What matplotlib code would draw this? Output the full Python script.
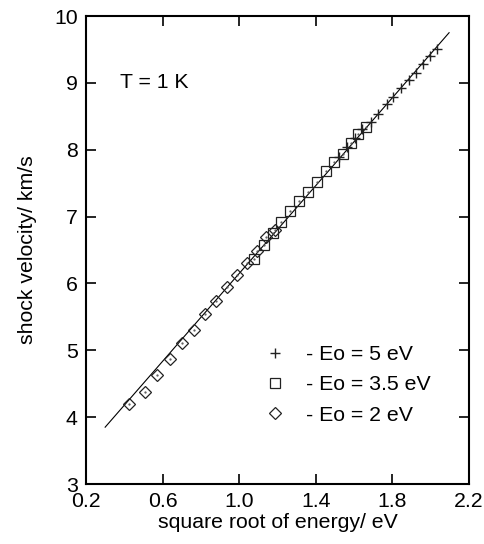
import matplotlib
matplotlib.use("Agg")
import matplotlib.pyplot as plt
from matplotlib.lines import Line2D

plt.rcParams["font.family"] = ["Liberation Sans", "DejaVu Sans"]

# Eo = 5 eV
x_5 = [1.523, 1.561, 1.603, 1.640, 1.686, 1.726, 1.770, 1.801, 1.845, 1.888,
       1.925, 1.962, 1.996, 2.031]
y_5 = [7.89, 8.04, 8.18, 8.31, 8.42, 8.54, 8.68, 8.79, 8.92, 9.04,
       9.15, 9.28, 9.40, 9.51]

# Eo = 3.5 eV
x_35 = [1.075, 1.127, 1.175, 1.218, 1.267, 1.314, 1.361, 1.406, 1.451, 1.495,
        1.540, 1.582, 1.622, 1.660]
y_35 = [6.37, 6.58, 6.76, 6.92, 7.08, 7.23, 7.37, 7.52, 7.68, 7.82,
        7.94, 8.10, 8.24, 8.34]

# Eo = 2 eV
x_2 = [0.426, 0.510, 0.572, 0.639, 0.703, 0.762, 0.819, 0.877, 0.936, 0.988,
       1.041, 1.093, 1.141, 1.187]
y_2 = [4.19, 4.38, 4.63, 4.87, 5.115, 5.31, 5.55, 5.74, 5.945, 6.125,
       6.31, 6.49, 6.70, 6.80]

# linear fit
fit_x = [0.30, 2.096]
fit_y = [3.85, 9.75]

x_ticks = [0.2, 0.6, 1.0, 1.4, 1.8, 2.2]
x_tick_labels = ["0.2", "0.6", "1.0", "1.4", "1.8", "2.2"]
y_ticks = [3, 4, 5, 6, 7, 8, 9, 10]

FS = 15.3

fig = plt.figure(figsize=(4.85, 5.44), dpi=100)
ax = fig.add_axes([86 / 485, 60 / 544, 383 / 485, 468 / 544])

ax.plot(fit_x, fit_y, color="black", lw=0.8)

mk = dict(linestyle="none", markerfacecolor="none", markeredgecolor="#222222")
plus_kw = dict(marker="+", markersize=7.5, markeredgewidth=1.0)
sq_kw = dict(marker="s", markersize=7.8, markeredgewidth=0.9)
dia_kw = dict(marker="D", markersize=6.0, markeredgewidth=0.9)

ax.plot(x_5, y_5, **plus_kw, **mk)
ax.plot(x_35, y_35, **sq_kw, **mk)
ax.plot(x_2, y_2, **dia_kw, **mk)
# small dot at the centre of each open symbol
ax.plot(x_35 + x_2, y_35 + y_2, linestyle="none", marker=".", markersize=1.2,
        color="#555555")

ax.set_xlim(0.2, 2.2)
ax.set_ylim(3, 10)
ax.set_xticks(x_ticks)
ax.set_xticklabels(x_tick_labels)
ax.set_yticks(y_ticks)
ax.tick_params(direction="in", length=7, width=1.2, labelsize=FS,
               top=True, right=True, pad=6)
ax.tick_params(axis="x", pad=6)
for spine in ax.spines.values():
    spine.set_linewidth(1.5)

ax.set_xlabel("square root of energy/ eV", fontsize=FS, labelpad=1)
ax.set_ylabel("shock velocity/ km/s", fontsize=FS, labelpad=12)

ax.text(0.38, 9.0, "T = 1 K", fontsize=FS, va="center")

handles = [
    Line2D([], [], **plus_kw, **mk),
    Line2D([], [], **sq_kw, **mk),
    Line2D([], [], **dia_kw, **mk),
]
labels = ["- Eo = 5 eV", "- Eo = 3.5 eV", "- Eo = 2 eV"]
ax.legend(handles, labels, loc="upper left", bbox_to_anchor=(0.417, 0.337),
          frameon=False, fontsize=FS, handlelength=1.0, handletextpad=0.96,
          labelspacing=0.52, borderpad=0.4)

fig.savefig("out.png", dpi=100)
